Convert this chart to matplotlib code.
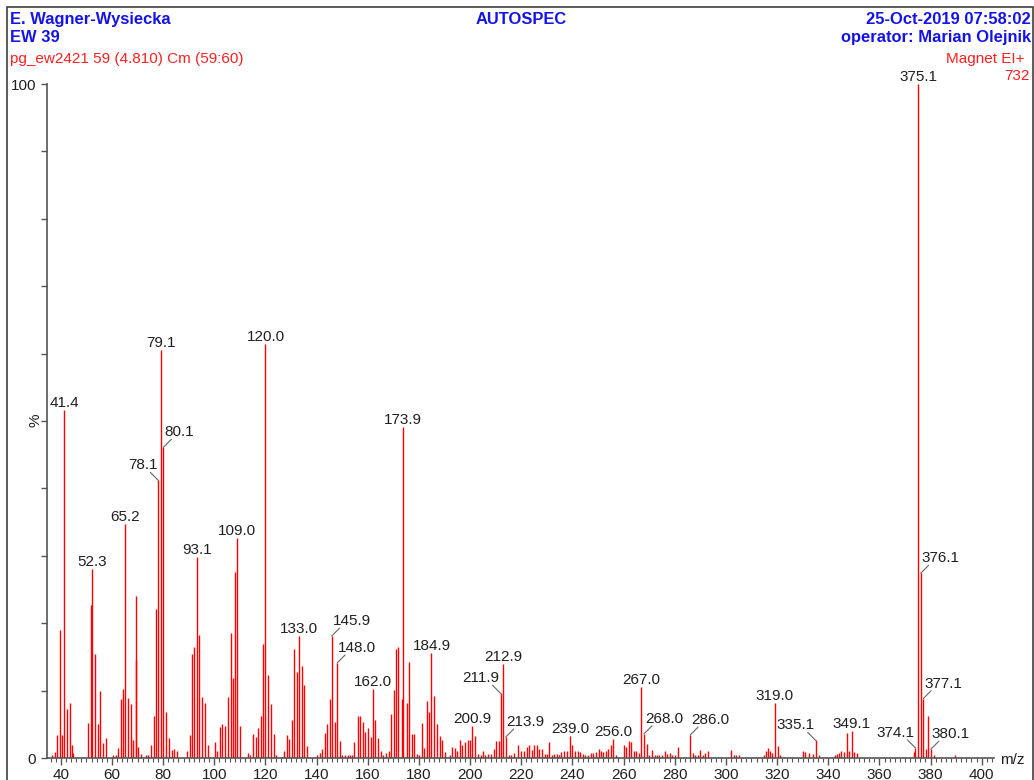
import matplotlib
matplotlib.use("Agg")
import matplotlib.pyplot as plt
from matplotlib.patches import Rectangle

plt.rcParams['font.family'] = ['Liberation Sans', 'DejaVu Sans']

# centroided spectrum: m/z and relative intensity (%)
mz = [36.7, 37.9, 38.5, 39.6, 40.6, 41.4, 42.6, 43.6, 44.4, 44.9,
      50.5, 51.7, 52.3, 53.5, 54.7, 55.3, 56.4, 57.5,
      60.5, 61.4, 62.2, 63.4, 64.4, 65.2, 66.3, 67.4, 68.3, 69.3, 69.5, 70.3, 71.5,
      73.2, 74.1, 75.4, 76.5, 77.2, 78.1, 79.1, 80.1, 81.2, 82.3, 83.5, 84.2, 85.3,
      89.3, 90.4, 91.1, 92.2, 93.1, 94.1, 95.0, 96.2, 97.4,
      100.3, 101.2, 102.3, 103.1, 104.3, 105.2, 106.4, 107.2, 108.2, 109.0, 110.2,
      113.3, 114.1, 115.2, 116.2, 117.1, 118.1, 119.1, 120.0, 121.1, 122.1, 123.3, 124.2,
      127.2, 128.3, 129.2, 130.2, 131.3, 132.2, 133.0, 134.1, 135.2, 136.1,
      140.1, 141.2, 142.2, 143.2, 144.2, 145.2, 145.9, 147.3, 148.0, 149.2,
      150.1, 151.1, 152.1, 153.1, 153.9, 154.8, 156.0, 157.0, 158.2, 159.0,
      160.0, 161.2, 162.0, 163.0, 164.1, 165.1, 166.0, 167.0, 168.1, 169.2,
      170.1, 171.0, 172.0, 173.2, 173.9, 175.2, 176.1, 177.2, 177.9, 179.1,
      180.0, 181.0, 181.9, 183.0, 184.0, 184.9, 185.8, 187.0, 188.1, 189.1, 190.0,
      192.2, 193.0, 193.9, 195.0, 196.0, 197.0, 198.1, 199.1, 200.0, 200.9,
      202.0, 203.2, 204.1, 205.0, 206.0, 207.1, 208.1, 209.2, 210.2, 211.1,
      211.9, 212.9, 213.9, 215.2, 216.1, 217.1, 218.9, 220.0, 221.0, 222.1,
      223.1, 224.1, 225.0, 226.1, 227.1, 228.0, 229.1, 230.0, 230.9, 232.0,
      232.9, 233.9, 234.7, 235.7, 236.6, 237.7, 239.0, 240.0, 241.1, 242.1,
      243.0, 244.1, 245.1, 246.1, 247.1, 248.1, 249.1, 250.2, 251.1, 252.0,
      253.1, 254.1, 255.0, 256.0, 257.2, 260.0, 261.0, 262.0, 263.0, 264.0,
      265.0, 266.0, 267.0, 268.0, 269.1, 270.0, 271.0, 272.1, 273.1, 274.0,
      275.1, 276.1, 277.0, 278.1, 279.1, 280.0, 281.1,
      286.0, 287.0, 288.0, 289.0, 290.0, 291.0, 292.0, 293.0,
      302.0, 303.1, 304.0, 305.0,
      314.9, 315.7, 316.5, 317.1, 318.1, 319.0, 320.3, 321.2,
      330.3, 331.1, 332.4, 334.2, 335.1, 336.3,
      342.8, 343.6, 344.2, 345.1, 346.1, 347.4, 348.1, 349.1, 350.2, 351.1,
      373.4, 374.1, 375.1, 376.1, 377.1, 378.1, 379.1, 380.1, 381.2, 389.4]

intensity = [0.4, 0.9, 3.4, 19.0, 3.4, 51.6, 7.2, 8.1, 2.0, 0.7,
             5.2, 22.7, 28.0, 15.4, 5.0, 9.9, 2.2, 3.0,
             0.4, 0.4, 1.5, 8.7, 10.3, 34.7, 8.9, 8.0, 2.6, 24.1, 14.6, 1.7, 0.6,
             0.4, 0.5, 1.9, 6.2, 22.1, 41.2, 60.5, 46.1, 6.8, 2.9, 1.2, 1.3, 1.0,
             1.0, 3.4, 15.5, 16.5, 29.8, 18.2, 9.1, 8.2, 2.0,
             2.3, 1.1, 4.6, 5.0, 4.7, 9.1, 18.6, 11.9, 27.6, 32.7, 4.7,
             0.7, 0.5, 3.5, 3.1, 4.4, 6.3, 16.9, 61.4, 12.3, 8.0, 3.5, 0.4,
             1.0, 3.4, 2.8, 5.6, 16.1, 12.8, 18.1, 13.7, 10.9, 1.8,
             0.5, 0.7, 1.4, 3.7, 5.0, 8.8, 18.1, 5.4, 14.1, 2.5,
             0.5, 0.4, 0.4, 0.4, 0.5, 2.4, 6.2, 6.3, 5.4, 3.8,
             4.4, 3.1, 10.3, 5.7, 2.9, 1.0, 0.4, 0.8, 1.0, 6.6,
             10.1, 16.1, 16.4, 8.7, 49.1, 8.2, 14.3, 3.5, 3.6, 0.6,
             0.4, 5.2, 1.5, 8.5, 6.8, 15.6, 9.2, 5.0, 3.2, 2.7, 0.9,
             0.4, 1.6, 1.5, 1.1, 2.6, 2.0, 2.4, 2.6, 2.6, 4.7,
             3.2, 0.6, 0.4, 1.0, 0.4, 0.6, 0.6, 1.4, 2.5, 2.5,
             9.6, 14.0, 3.1, 0.5, 0.4, 0.8, 1.9, 1.0, 1.0, 1.7,
             1.9, 1.2, 2.0, 1.9, 1.4, 1.3, 0.6, 0.6, 2.3, 0.5,
             0.6, 0.6, 0.5, 0.9, 1.0, 1.1, 3.3, 2.0, 1.1, 1.1,
             0.9, 0.6, 0.5, 0.5, 0.7, 0.7, 0.9, 1.4, 1.0, 0.9,
             1.0, 1.4, 1.9, 2.8, 0.5, 2.0, 1.6, 2.5, 2.3, 1.0,
             1.0, 0.7, 10.5, 3.6, 2.1, 0.5, 1.2, 0.5, 0.4, 0.5,
             0.5, 1.0, 0.6, 0.7, 0.5, 0.4, 1.7,
             3.4, 0.7, 0.4, 0.5, 1.2, 0.5, 0.7, 1.0,
             1.2, 0.5, 0.5, 0.5,
             0.4, 1.0, 1.5, 1.0, 0.7, 8.2, 1.8, 0.4,
             1.0, 0.9, 0.7, 0.6, 2.6, 0.5,
             0.4, 0.6, 0.7, 1.1, 0.9, 3.7, 1.0, 4.0, 0.9, 0.8,
             0.9, 1.5, 100.0, 27.4, 8.8, 1.4, 6.3, 1.3, 0.4, 0.5]

# peaks carrying a value label; side: 0 = above, -1 = left leader, 1 = right leader
label_mz = [41.4, 52.3, 65.2, 78.1, 79.1, 80.1, 93.1, 109.0, 120.0, 133.0,
            145.9, 148.0, 162.0, 173.9, 184.9, 200.9, 211.9, 212.9, 213.9,
            239.0, 256.0, 267.0, 268.0, 286.0, 319.0, 335.1, 349.1,
            374.1, 375.1, 376.1, 377.1, 380.1]
label_side = [0, 0, 0, -1, 0, 1, 0, 0, 0, 0,
              1, 1, 0, 0, 0, 0, -1, 0, 1,
              0, 0, 0, 1, 1, 0, -1, 0,
              -1, 0, 1, 1, 1]

W, H = 1034, 780
fig = plt.figure(figsize=(W / 100, H / 100), dpi=100)
fig.patch.set_facecolor('white')


def fx(px):
    return px / W


def fy(py):
    return 1 - py / H


ax = fig.add_axes([fx(47), fy(758), (994 - 47) / W, (758 - 84) / H])
ax.vlines(mz, 0, intensity, colors='#ff0000', linewidth=1.0)

ax.set_xlim(34.6, 404.8)
ax.set_ylim(0, 100)
for s in ['top', 'right']:
    ax.spines[s].set_visible(False)
for s in ['left', 'bottom']:
    ax.spines[s].set_color('#555555')
    ax.spines[s].set_linewidth(1.2)

ax.set_xticks(range(40, 401, 20))
ax.set_xticks(range(36, 405, 2), minor=True)
ax.set_yticks(range(0, 101, 10))
ax.set_yticklabels(['0'] + [''] * 9 + ['100'])
ax.tick_params(axis='both', which='both', direction='out', color='#555555',
               labelsize=11, labelcolor='#202020')
ax.tick_params(axis='x', which='major', length=5, width=1.0, pad=2)
ax.tick_params(axis='x', which='minor', length=3, width=0.8)
ax.tick_params(axis='y', which='major', length=4, width=1.0, pad=4)

# value labels above peaks
for m, side in zip(label_mz, label_side):
    h = intensity[mz.index(m)]
    txt = f'{m:.1f}'
    if side == 0:
        ax.annotate(txt, (m, h), xytext=(0, 3), textcoords='offset pixels',
                    ha='center', va='baseline', fontsize=11, color='#202020')
    else:
        ax.annotate('', (m, h), xytext=(8 * side, 8), textcoords='offset pixels',
                    arrowprops=dict(arrowstyle='-', color='#666666', lw=0.8,
                                    shrinkA=0, shrinkB=0))
        ax.annotate(txt, (m, h), xytext=(1 * side, 11), textcoords='offset pixels',
                    ha='left' if side > 0 else 'right', va='baseline',
                    fontsize=11, color='#202020')

fig.text(fx(35), fy(420), '%', rotation=90, ha='center', va='center',
         fontsize=11, color='#202020')
fig.text(fx(1000), fy(764), 'm/z', ha='left', va='baseline', fontsize=11,
         color='#202020')

# header block
blue = '#1414e6'
red = '#ff2020'
fig.text(fx(10), fy(24.3), 'E. Wagner-Wysiecka', ha='left', va='baseline',
         fontsize=11.9, fontweight='bold', color=blue)
fig.text(fx(10), fy(42.3), 'EW 39', ha='left', va='baseline',
         fontsize=11.9, fontweight='bold', color=blue)
fig.text(fx(10), fy(63.3), 'pg_ew2421 59 (4.810) Cm (59:60)', ha='left',
         va='baseline', fontsize=11, color=red)
fig.text(fx(521), fy(24.3), 'AUTOSPEC', ha='center', va='baseline',
         fontsize=11.9, fontweight='bold', color=blue)
fig.text(fx(1031), fy(24.3), '25-Oct-2019 07:58:02', ha='right', va='baseline',
         fontsize=11.9, fontweight='bold', color=blue)
fig.text(fx(1031), fy(42.3), 'operator: Marian Olejnik', ha='right',
         va='baseline', fontsize=11.9, fontweight='bold', color=blue)
fig.text(fx(1025), fy(63.3), 'Magnet EI+', ha='right', va='baseline',
         fontsize=11, color=red)
fig.text(fx(1030), fy(80), '732', ha='right', va='baseline',
         fontsize=11, color=red)

fig.add_artist(Rectangle((fx(7), -0.05), fx(1033 - 7), fy(7) + 0.05,
                         transform=fig.transFigure, fill=False,
                         edgecolor='#404040', linewidth=1.2))

fig.savefig('out.png', dpi=100)
